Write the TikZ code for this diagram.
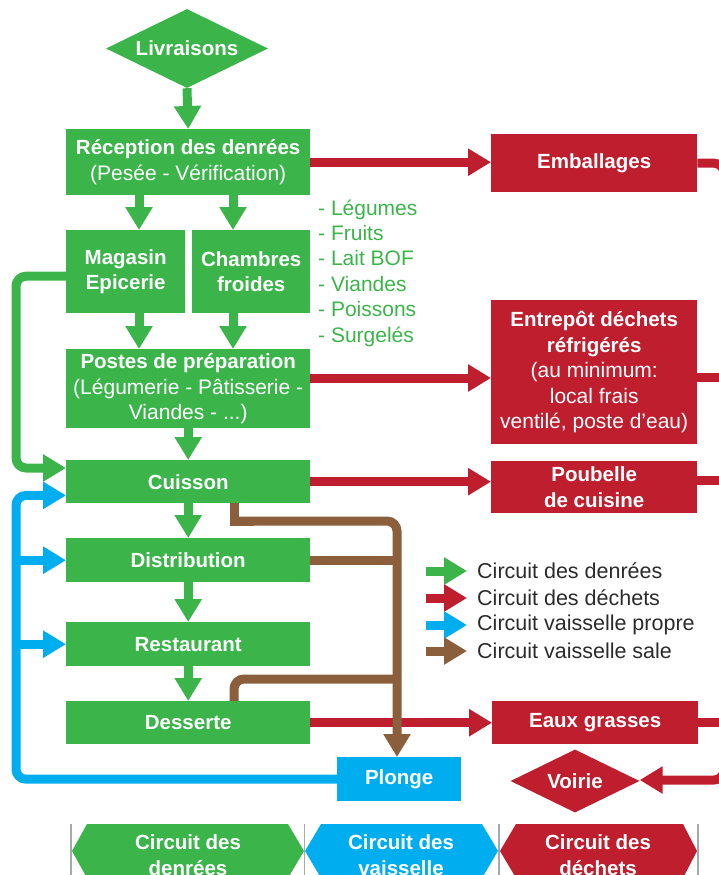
\documentclass[tikz,border=0pt]{standalone}
\usepackage{fontspec}
\setmainfont{Liberation Sans}
\usetikzlibrary{arrows.meta,shapes.geometric,calc}
\definecolor{cgreen}{HTML}{3BB54A}
\definecolor{cred}{HTML}{BE1E2D}
\definecolor{cblue}{HTML}{00AEEF}
\definecolor{cbrown}{HTML}{8B5E3C}
\definecolor{ctext}{HTML}{2B2B2B}
\definecolor{cgray}{HTML}{A7A9AC}
\newcommand\regln{\mdseries\fontsize{21}{25.5}\selectfont}
\begin{document}
\begin{tikzpicture}[x=1pt,y=-1pt,
  bfnt/.style={font=\bfseries\fontsize{20.5}{25.5}\selectfont},
  greenbox/.style={fill=cgreen,text=white,inner sep=0pt,anchor=north west,align=center,bfnt},
  redbox/.style={greenbox,fill=cred},
  bluebox/.style={greenbox,fill=cblue},
  fatline/.style={line width=9pt},
  fatarrow/.style={line width=9pt,-{Triangle[length=23pt,width=26pt]}},
  garrow/.style={fatarrow,draw=cgreen},
  rarrow/.style={fatarrow,draw=cred},
  barrow/.style={fatarrow,draw=cblue},
  brarrow/.style={fatarrow,draw=cbrown},
  rline/.style={fatline,draw=cred},
  brline/.style={fatline,draw=cbrown},
  lgtext/.style={anchor=west,inner sep=0pt,text=ctext,font=\fontsize{21.5}{25}\selectfont},
  bandtext/.style={text=white,align=center,inner sep=0pt,bfnt},
  sep/.style={draw=cgray,line width=1.5pt}
]
\useasboundingbox (0,0) rectangle (718,875);

% ---- nodes ----
\node[diamond,shape aspect=2,fill=cgreen,text=white,inner sep=0pt,minimum width=162pt,minimum height=79pt,bfnt] (liv) at (187,48.5) {Livraisons};
\node[greenbox,minimum width=244pt,minimum height=66pt] (rec) at (66,129) {Réception des denrées\\{\regln(Pesée - Vérification)}};
\node[greenbox,minimum width=119pt,minimum height=83pt] (mag) at (66,230) {Magasin\\Epicerie};
\node[greenbox,minimum width=118pt,minimum height=83pt] (cha) at (192,230) {Chambres\\froides};
\node[greenbox,minimum width=244pt,minimum height=79pt] (pos) at (66,349) {Postes de préparation\\{\regln(Légumerie - Pâtisserie -}\\{\regln Viandes - ...)}};
\node[greenbox,minimum width=244pt,minimum height=43pt] (cui) at (66,460) {Cuisson};
\node[greenbox,minimum width=244pt,minimum height=44pt] (dist) at (66,538) {Distribution};
\node[greenbox,minimum width=244pt,minimum height=44pt] (rest) at (66,622) {Restaurant};
\node[greenbox,minimum width=244pt,minimum height=43pt] (dess) at (66,701) {Desserte};

\node[redbox,minimum width=206pt,minimum height=58pt] (emb) at (491,134) {Emballages};
\node[redbox,minimum width=206pt,minimum height=144pt] (ent) at (491,300) {Entrepôt déchets\\réfrigérés\\{\regln(au minimum:}\\{\regln local frais}\\{\regln ventilé, poste d’eau)}};
\node[redbox,minimum width=206pt,minimum height=52pt] (poub) at (491,461) {Poubelle\\de cuisine};
\node[redbox,minimum width=206pt,minimum height=43pt] (eaux) at (492,701) {Eaux grasses};
\node[diamond,shape aspect=2,fill=cred,text=white,inner sep=0pt,minimum width=129pt,minimum height=63pt,bfnt] (voi) at (575,781) {Voirie};
\node[bluebox,minimum width=124pt,minimum height=44pt] (plo) at (337,757) {Plonge};

\node[anchor=west,align=left,inner sep=0pt,text=cgreen,font=\fontsize{21}{25.4}\selectfont] (list) at (318,273) {- Légumes\\- Fruits\\- Lait BOF\\- Viandes\\- Poissons\\- Surgelés};

% ---- legend ----
\node[lgtext] (l1) at (477,571) {Circuit des denrées};
\node[lgtext] (l2) at (477,598) {Circuit des déchets};
\node[lgtext] (l3) at (477,625) {Circuit vaisselle propre};
\node[lgtext] (l4) at (477,651) {Circuit vaisselle sale};
\draw[garrow] ($(l1.west)+(-51,0)$) -- ($(l1.west)+(-10,0)$);
\draw[rarrow] ($(l2.west)+(-51,0)$) -- ($(l2.west)+(-10,0)$);
\draw[barrow] ($(l3.west)+(-51,0)$) -- ($(l3.west)+(-10,0)$);
\draw[brarrow] ($(l4.west)+(-51,0)$) -- ($(l4.west)+(-10,0)$);

% ---- green flow ----
\draw[garrow] (liv.south) -- (rec.north);
\coordinate (ga) at ($(rec.south west)+(73,0)$);
\coordinate (gb) at ($(rec.south west)+(167,0)$);
\draw[garrow] (ga) -- (ga |- mag.north);
\draw[garrow] (gb) -- (gb |- cha.north);
\draw[garrow] (ga |- mag.south) -- (ga |- pos.north);
\draw[garrow] (gb |- cha.south) -- (gb |- pos.north);
\draw[garrow] (pos.south) -- (cui.north);
\draw[garrow] (cui.south) -- (dist.north);
\draw[garrow] (dist.south) -- (rest.north);
\draw[garrow] (rest.south) -- (dess.north);
\coordinate (lx) at (16,0);
\coordinate (mgl) at ($(mag.west)+(0,4.5)$);
\coordinate (cug) at ($(cui.north west)+(0,8)$);
\draw[garrow,rounded corners=10pt] (mgl) -- (mgl -| lx) -- (lx |- cug) -- (cug);

% ---- red flow ----
\draw[rarrow] (rec.east) -- (rec.east -| emb.west);
\coordinate (posr) at ($(pos.north east)+(0,29)$);
\draw[rarrow] (posr) -- (posr -| ent.west);
\draw[rarrow] (cui.east) -- (cui.east -| poub.west);
\draw[rarrow] (dess.east) -- (dess.east -| eaux.west);
\coordinate (rx) at (724,0);
\coordinate (rb) at (0,780);
\draw[rarrow,rounded corners=10pt] (emb.east) -- (emb.east -| rx) -- (rx |- rb) -- (rb -| voi.east);
\coordinate (entr) at ($(ent.east)+(0,5)$);
\draw[rline] (entr) -- (entr -| rx);
\coordinate (poubr) at ($(poub.east)+(0,-7)$);
\draw[rline] (poubr) -- (poubr -| rx);
\draw[rline] (eaux.east) -- (eaux.east -| rx);

% ---- blue flow ----
\coordinate (cub) at ($(cui.south west)+(0,-8)$);
\draw[barrow,rounded corners=10pt] (plo.west) -- (plo.west -| lx) -- (lx |- cub) -- (cub);
\draw[barrow] (dist.west -| lx) -- (dist.west);
\draw[barrow] (rest.west -| lx) -- (rest.west);

% ---- brown flow ----
\coordinate (bx) at ($(cui.south west)+(168,0)$);
\coordinate (by) at (0,521);
\coordinate (bv) at (397,0);
\coordinate (bc) at (bx |- by);
\draw[brline] (bx) -- (bc) -- ($(bc)+(20,0)$);
\draw[brarrow,rounded corners=10pt] (bc) -- (bc -| bv) -- (bv |- plo.north);
\draw[brline] (dist.east) -- (dist.east -| bv);
\coordinate (dx) at ($(dess.north west)+(168,0)$);
\coordinate (dy) at (0,679);
\draw[brline,rounded corners=10pt] (dx) -- (dx |- dy) -- (dy -| bv);

% ---- bottom bands ----
\fill[cgreen] (72,851) -- (87,824) -- (288,824) -- (304,851) -- (288,878) -- (87,878) -- cycle;
\fill[cblue] (305,851) -- (321,824) -- (482,824) -- (498,851) -- (482,878) -- (321,878) -- cycle;
\fill[cred] (500,851) -- (516,824) -- (683,824) -- (697,851) -- (683,878) -- (516,878) -- cycle;
\draw[sep] (71,824) -- (71,875);
\draw[sep] (304.5,824) -- (304.5,875);
\draw[sep] (499,824) -- (499,875);
\draw[sep] (698,824) -- (698,875);
\node[bandtext] (bt1) at (188,855) {Circuit des\\denrées};
\node[bandtext] (bt2) at (401,855) {Circuit des\\vaisselle};
\node[bandtext] (bt3) at (598,855) {Circuit des\\déchets};
\end{tikzpicture}
\end{document}
